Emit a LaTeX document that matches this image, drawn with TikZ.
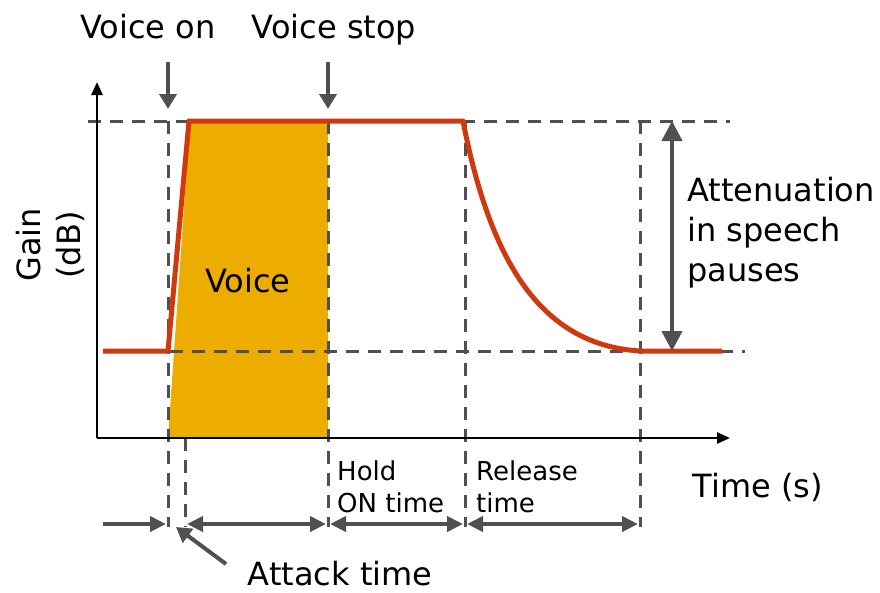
\documentclass[tikz,border=0pt]{standalone}
\usepackage{fontspec}
\setmainfont{DejaVu Sans}
\usetikzlibrary{arrows.meta}
\definecolor{gainred}{RGB}{208,56,14}
\definecolor{voicefill}{RGB}{237,173,0}
\definecolor{guidegray}{RGB}{80,80,80}
\tikzset{
  bigtext/.style={font=\fontsize{32}{40}\selectfont, inner sep=0pt},
  smalltext/.style={font=\fontsize{26}{32}\selectfont, inner sep=0pt, align=left},
  guide/.style={guidegray, line width=3pt, dash pattern=on 13pt off 9pt},
  axisline/.style={black, line width=2.5pt, -{Triangle[length=13pt,width=11pt]}},
  gaincurve/.style={gainred, line width=5pt, line join=round},
  pointer/.style={guidegray, line width=4pt, -{Triangle[length=15pt,width=17pt]}},
  span/.style={guidegray, line width=4pt, {Triangle[length=16pt,width=15pt]}-{Triangle[length=16pt,width=15pt]}},
}
\begin{document}
\begin{tikzpicture}[x=1pt,y=-1pt]
\useasboundingbox (0,0) rectangle (880,592);

% key points of the plot
\coordinate (origin) at (97,438);
\coordinate (ytip) at (97,82);
\coordinate (xtip) at (730,438);
\coordinate (lowL) at (103,351);
\coordinate (onset) at (168,351);
\coordinate (peak) at (189,121);
\coordinate (holdend) at (463,121);
\coordinate (relend) at (640,351);
\coordinate (lowR) at (722,351);

% voice region
\fill[voicefill] (168,438) -- (190,121) -- (328,121) -- (328,438) -- cycle;

% level guides
\draw[guide] (88,121) -- (730,121);
\draw[guide] (170,351) -- (745,351);

% time guides
\draw[guide] (168,121) -- (168,527);
\draw[guide] (185,438) -- (185,527);
\draw[guide] (328,121) -- (328,527);
\draw[guide] (465,121) -- (465,527);
\draw[guide] (640,121) -- (640,527);

% axes
\draw[axisline] (origin) -- (ytip);
\draw[axisline] (origin) -- (xtip);

% gain curve
\draw[gaincurve] (lowL) -- (onset) -- (peak) -- (holdend)
  .. controls (490,260) and (540,345) .. (relend) -- (lowR);

% labels
\node[bigtext, anchor=base] (von) at (148,38) {Voice on};
\node[bigtext, anchor=base] (vstop) at (334,38) {Voice stop};
\node[bigtext, anchor=base] (voice) at (248,292) {Voice};
\node[bigtext, anchor=base] (time) at (758,497) {Time (s)};
\node[bigtext, align=center, rotate=90] (gain) at (50,245) {Gain\\(dB)};
\node[bigtext, align=left, anchor=west] (atten) at (687,233) {Attenuation\\in speech\\pauses};
\node[smalltext, anchor=west] (hold) at (337,487) {Hold\\ON time};
\node[smalltext, anchor=west] (rel) at (476,487) {Release\\time};
\node[bigtext, anchor=base] (attack) at (340,585) {Attack time};

% event markers
\coordinate (vonA) at (168,62);
\coordinate (vonB) at (168,109);
\coordinate (vstopA) at (328,62);
\coordinate (vstopB) at (328,109);
\draw[pointer] (vonA) -- (vonB);
\draw[pointer] (vstopA) -- (vstopB);

% attenuation range
\coordinate (attTop) at (672,121);
\coordinate (attBot) at (672,351);
\draw[guidegray, line width=4pt, {Triangle[length=20pt,width=20pt]}-{Triangle[length=20pt,width=20pt]}] (attTop) -- (attBot);

% time spans
\coordinate (s0) at (103,524);
\coordinate (s1) at (166,524);
\coordinate (s2) at (187,524);
\coordinate (s3) at (326,524);
\coordinate (s4) at (330,524);
\coordinate (s5) at (463,524);
\coordinate (s6) at (467,524);
\coordinate (s7) at (638,524);
\draw[guidegray, line width=4pt, -{Triangle[length=16pt,width=15pt]}] (s0) -- (s1);
\draw[span] (s2) -- (s3);
\draw[span] (s4) -- (s5);
\draw[span] (s6) -- (s7);

% attack time pointer
\coordinate (attackTail) at (226,564);
\coordinate (attackTip) at (176,527);
\draw[pointer] (attackTail) -- (attackTip);
\end{tikzpicture}
\end{document}
